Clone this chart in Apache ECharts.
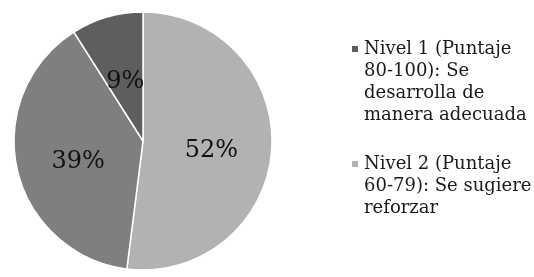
<!DOCTYPE html>
<html>
<head>
<meta charset="utf-8">
<script src="https://cdn.jsdelivr.net/npm/echarts@6/dist/echarts.min.js"></script>
<style>
  html, body { margin: 0; padding: 0; background: #fff; }
  #main { width: 534px; height: 277px; }
</style>
</head>
<body>
<div id="main"></div>
<script>
// datos del grafico (orden horario desde las 12)
var categorias = ['Nivel 2 (Puntaje 60-79): Se sugiere reforzar', 'Nivel 3 (Puntaje 0-59)', 'Nivel 1 (Puntaje 80-100): Se desarrolla de manera adecuada'];
var porcentajes = [52, 39, 9];
var leyendaLineas = [
    ['Nivel 1 (Puntaje', '80-100): Se', 'desarrolla de', 'manera adecuada'],
    ['Nivel 2 (Puntaje', '60-79): Se sugiere', 'reforzar']
];
var colores = ['#b2b2b2', '#7f7f7f', '#5e5e5e'];

var lineH = 22;
// el icono queda en la primera linea: se anteponen lineas vacias
function textoLeyenda(lineas) {
    var pre = '';
    for (var i = 1; i < lineas.length; i++) pre += '\n';
    return pre + lineas.join('\n');
}
function leyenda(idx, nombre, top) {
    var lineas = leyendaLineas[idx];
    return {
        data: [nombre],
        left: 350,
        top: top - (lineas.length - 0.5) * lineH + 4,
        padding: 0,
        itemWidth: 8,
        itemHeight: 8,
        icon: 'rect',
        selectedMode: false,
        formatter: function () { return textoLeyenda(lineas); },
        textStyle: {
            fontFamily: 'DejaVu Serif',
            fontSize: 18,
            color: '#1a1a1a',
            lineHeight: lineH
        }
    };
}

var myChart = echarts.init(document.getElementById('main'));
var datos = [];
for (var i = 0; i < categorias.length; i++) {
    datos.push({ name: categorias[i], value: porcentajes[i], itemStyle: { color: colores[i] } });
}
var option = {
    animation: false,
    legend: [
        leyenda(0, categorias[2], 45),
        leyenda(1, categorias[0], 160)
    ],
    series: [{
        type: 'pie',
        center: [143, 141],
        radius: 129,
        startAngle: 90,
        clockwise: true,
        data: datos,
        itemStyle: {
            borderColor: '#fff',
            borderWidth: 1.5
        },
        label: {
            position: 'inside',
            formatter: '{c}%',
            fontFamily: 'DejaVu Serif',
            fontSize: 24,
            color: '#111',
            offset: [1, 6]
        },
        labelLine: { show: false },
        emphasis: { disabled: true }
    }]
};
myChart.setOption(option);
</script>
</body>
</html>
